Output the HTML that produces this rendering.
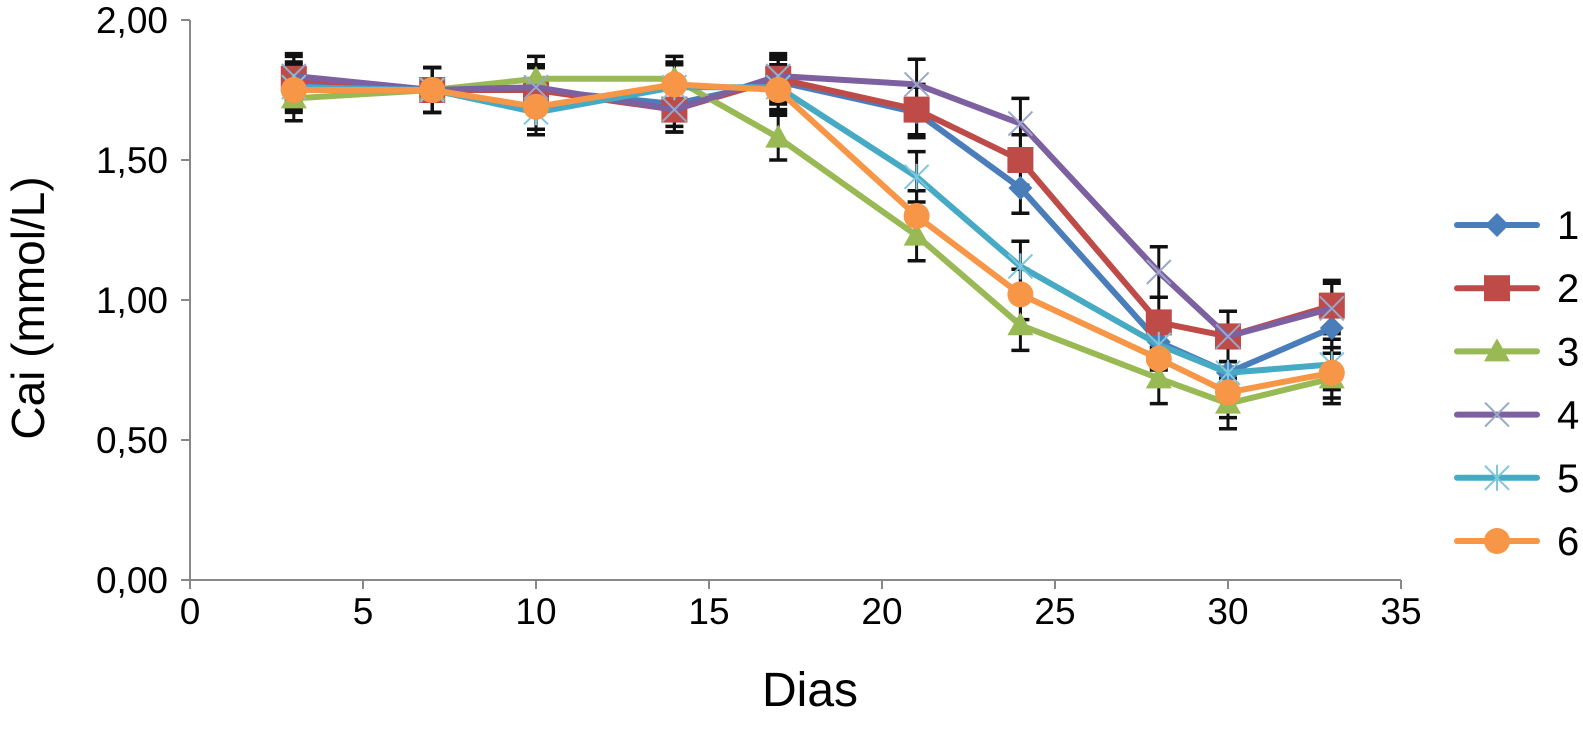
<!DOCTYPE html>
<html><head><meta charset="utf-8"><style>
html,body{margin:0;padding:0;background:#fff;overflow:hidden;width:1583px;height:735px;}
svg{display:block;}
svg text{font-family:"Liberation Sans",sans-serif;fill:#000;}
</style></head><body>
<svg id="chart" width="1583" height="735" viewBox="0 0 1583 735" xmlns="http://www.w3.org/2000/svg">
<g id="axes"></g>
<g id="errs"></g>
<g id="series"></g>
<g id="legend"></g>
<text x="0" y="0" font-size="46" text-anchor="middle" transform="translate(44,308) rotate(-90)">Cai (mmol/L)</text>
<text x="810" y="706" font-size="48" text-anchor="middle">Dias</text>
</svg>
<script>
const days = [3,7,10,14,17,21,24,28,30,33];
const s1 = [1.77,1.75,1.75,1.70,1.78,1.67,1.40,0.85,0.74,0.90];
const s2 = [1.79,1.75,1.75,1.68,1.79,1.68,1.50,0.92,0.87,0.98];
const s3 = [1.72,1.75,1.79,1.79,1.58,1.23,0.91,0.72,0.63,0.72];
const s4 = [1.80,1.75,1.76,1.68,1.80,1.77,1.63,1.10,0.87,0.97];
const s5 = [1.76,1.75,1.67,1.76,1.76,1.44,1.12,0.84,0.74,0.77];
const s6 = [1.75,1.75,1.69,1.77,1.75,1.30,1.02,0.79,0.67,0.74];
const errs = [0.08,0.08,0.08,0.08,0.08,0.09,0.09,0.09,0.09,0.09];
const seriesNames = ["1","2","3","4","5","6"];
const xTicks = [0,5,10,15,20,25,30,35];
const yTicks = [0,0.5,1,1.5,2];
const yTickLabels = ["0,00","0,50","1,00","1,50","2,00"];

const NS="http://www.w3.org/2000/svg";
const X0=190,X1=1401,Y0=580,Y1=20;
const xs=v=>X0+(v/35)*(X1-X0);
const ys=v=>Y0-(v/2)*(Y0-Y1);
function mk(tag,attrs,parent){const e=document.createElementNS(NS,tag);for(const k in attrs)e.setAttribute(k,attrs[k]);parent.appendChild(e);return e;}
const axes=document.getElementById('axes');
let l=mk('line',{x1:X0,y1:Y1,x2:X0,y2:Y0,stroke:'#888','stroke-width':2},axes);


l=mk('line',{x1:X0,y1:Y0,x2:X1,y2:Y0,stroke:'#888','stroke-width':2},axes);


yTicks.forEach((v,i)=>{
  mk('line',{x1:X0-9,y1:ys(v),x2:X0,y2:ys(v),stroke:'#888','stroke-width':2},axes);
  const t=mk('text',{x:X0-22,y:ys(v)+13,'font-size':37,'text-anchor':'end'},axes);
  t.textContent=yTickLabels[i];
  
  
});
xTicks.forEach(v=>{
  mk('line',{x1:xs(v),y1:Y0,x2:xs(v),y2:Y0+9,stroke:'#888','stroke-width':2},axes);
  const t=mk('text',{x:xs(v),y:Y0+44,'font-size':37,'text-anchor':'middle'},axes);
  t.textContent=v;
  
  
});
const all=[s1,s2,s3,s4,s5,s6];
const colors=['#4a7ebb','#be4b48','#98b954','#7d60a0','#46aac5','#f79646'];
const shapes=['diamond','square','triangle','x','star','circle'];
const eg=document.getElementById('errs');
all.forEach(s=>s.forEach((v,i)=>{
  const x=xs(days[i]),a=ys(v+errs[i]),b=ys(v-errs[i]);
  mk('line',{x1:x,y1:a,x2:x,y2:b,stroke:'#111','stroke-width':3},eg);
  mk('line',{x1:x-9,y1:a,x2:x+9,y2:a,stroke:'#111','stroke-width':3.5},eg);
  mk('line',{x1:x-9,y1:b,x2:x+9,y2:b,stroke:'#111','stroke-width':3.5},eg);
}));
function marker(shape,x,y,c,g){
  if(shape==='diamond')return mk('polygon',{points:`${x},${y-12} ${x+12},${y} ${x},${y+12} ${x-12},${y}`,fill:c},g);
  if(shape==='square')return mk('rect',{x:x-13,y:y-13,width:26,height:26,fill:c},g);
  if(shape==='triangle')return mk('polygon',{points:`${x},${y-13} ${x+13},${y+10} ${x-13},${y+10}`,fill:c},g);
  if(shape==='circle')return mk('circle',{cx:x,cy:y,r:13,fill:c},g);
  const gg=mk('g',{stroke:'#9aa8c8','stroke-width':2},g);
  mk('line',{x1:x-12,y1:y-12,x2:x+12,y2:y+12},gg);mk('line',{x1:x-12,y1:y+12,x2:x+12,y2:y-12},gg);
  if(shape==='star'){gg.setAttribute('stroke','#7ec6dc');mk('line',{x1:x,y1:y-13,x2:x,y2:y+13},gg);}
  return gg;
}
const sg=document.getElementById('series');
all.forEach((s,k)=>{
  const g=mk('g',{},sg);
  
  
  const p=mk('polyline',{points:s.map((v,i)=>xs(days[i])+','+ys(v)).join(' '),fill:'none',stroke:colors[k],'stroke-width':6,'stroke-linejoin':'round'},g);
  
  
  s.forEach((v,i)=>{const m=marker(shapes[k],xs(days[i]),ys(v),colors[k],g);
    
    });
});
const lg=document.getElementById('legend');
seriesNames.forEach((n,k)=>{
  const y=225+k*63.2;
  const g=mk('g',{},lg);
  
  
  mk('line',{x1:1457,y1:y,x2:1537,y2:y,stroke:colors[k],'stroke-width':6,'stroke-linecap':'round'},g);
  marker(shapes[k],1497,y,colors[k],g);
  const t=mk('text',{x:1557,y:y+14,'font-size':40},g);t.textContent=n;
});
</script>
</body></html>
